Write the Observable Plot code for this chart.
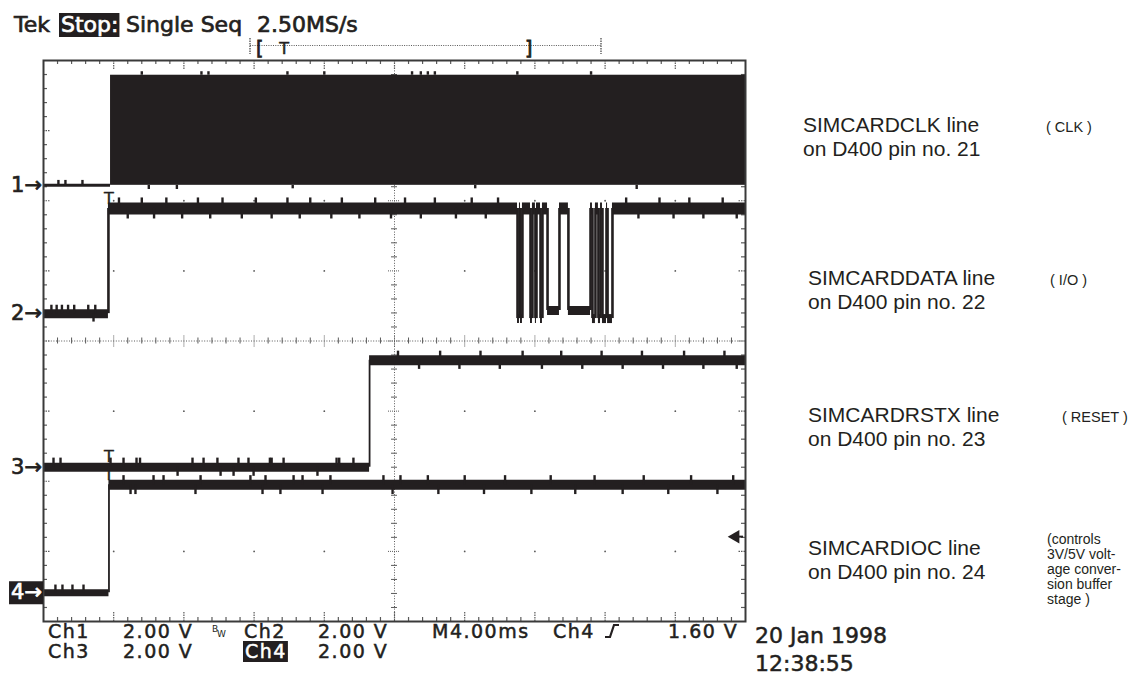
<!DOCTYPE html>
<html>
<head>
<meta charset="utf-8">
<script src="https://cdn.jsdelivr.net/npm/d3@7"></script>
<script src="https://cdn.jsdelivr.net/npm/@observablehq/plot@0.6"></script>
<style>
  html, body { margin: 0; padding: 0; background: #fff; }
  #scope svg { display: block; }
</style>
</head>
<body>
<div id="scope"></div>
<script>
// ---- acquisition settings ----------------------------------------------
const timePerDiv = 4;          // ms per division (M4.00ms)
const voltsPerDiv = 2;         // V per division, all four channels
const divsX = 10;
const divsY = 8;
const sampleRate = "2.50MS/s";
const triggerChannel = 4;
const triggerLevel = 1.60;     // V, rising edge
const triggerTime = 3.73;      // ms from the left edge of the screen
const dateStamp = "20 Jan 1998";
const timeStamp = "12:38:55";

// ---- channels -----------------------------------------------------------
const channelIds = [1, 2, 3, 4];
const groundDiv = [2.22, 0.39, -1.80, -3.59];   // ground markers, divisions from centre
const signalNames = ["SIMCARDCLK", "SIMCARDDATA", "SIMCARDRSTX", "SIMCARDIOC"];
const pinNumbers = [21, 22, 23, 24];
const signalRoles = [
  ["( CLK )"],
  ["( I/O )"],
  ["( RESET )"],
  ["(controls", "3V/5V volt-", "age conver-", "sion buffer", "stage )"]
];

// Ch1: clock burst envelope
const clkStart = 3.82;   // ms
const clkHigh = 3.14;    // V

// Ch2..Ch4 as held levels: [start ms, end ms, volts]
const ch2Levels = [
  [0, 3.70, 0], [3.70, 27.01, 3.0],
  [27.01, 27.12, -0.14], [27.12, 27.18, 3.0], [27.18, 27.29, -0.14],
  [27.29, 27.75, 3.0], [27.75, 27.86, -0.14], [27.86, 28.03, 3.0],
  [28.03, 28.09, -0.14], [28.09, 28.32, 3.0], [28.32, 28.43, -0.14],
  [28.43, 28.72, 3.0], [28.72, 29.40, 0.09], [29.40, 29.91, 3.0],
  [29.91, 31.17, 0.09], [31.17, 31.28, 3.0], [31.28, 31.45, -0.14],
  [31.45, 31.62, 3.0], [31.62, 31.74, -0.14], [31.74, 31.85, 3.0],
  [31.85, 32.08, -0.14], [32.08, 32.14, 3.0], [32.14, 32.42, -0.14],
  [32.42, 40, 3.0]
];
const ch3Levels = [[0, 18.58, 0], [18.58, 40, 3.05]];
const ch4Levels = [[0, 3.73, 0], [3.73, 40, 3.08]];

// Short noise spikes on each trace: [ms, level V, excursion V]
const ch1Glitches = [
  [0.85, 0, 0.14], [1.25, 0, 0.14], [2.22, 0, 0.14],
  [5.6, 3.14, 0.1], [9.0, 3.14, 0.1], [9.4, 3.14, 0.1], [13.9, 3.14, 0.1], [16.0, 3.14, 0.1],
  [21.0, 3.14, 0.1], [21.5, 3.14, 0.1], [21.9, 3.14, 0.1], [22.3, 3.14, 0.1], [27.0, 3.14, 0.1], [31.2, 3.14, 0.1],
  [6.0, 0, -0.12], [7.6, 0, -0.12], [14.2, 0, -0.1], [24.6, 0, -0.1], [33.8, 0, -0.12]
];
const ch2Glitches = [
  [0.45, 0, 0.24], [0.75, 0, 0.24], [1.05, 0, 0.24], [1.4, 0, 0.24], [1.75, 0, 0.24], [2.55, 0, 0.24], [2.95, 0, 0.24], [2.85, 0, -0.24],
  [4.3, 3, 0.3], [5.6, 3, 0.3], [7.0, 3, 0.3], [8.8, 3, 0.3], [10.2, 3, 0.3], [12.1, 3, 0.3], [13.9, 3, 0.3], [15.2, 3, 0.3],
  [17.0, 3, 0.3], [18.9, 3, 0.3], [20.6, 3, 0.3], [22.3, 3, 0.3], [24.4, 3, 0.3], [25.9, 3, 0.3], [33.2, 3, 0.3], [35.1, 3, 0.3],
  [36.8, 3, 0.3], [38.7, 3, 0.3],
  [4.8, 3, -0.3], [6.3, 3, -0.3], [7.9, 3, -0.3], [9.5, 3, -0.3], [11.3, 3, -0.3], [13.0, 3, -0.3], [14.6, 3, -0.3], [16.4, 3, -0.3],
  [18.0, 3, -0.3], [19.8, 3, -0.3], [21.5, 3, -0.3], [23.5, 3, -0.3], [25.2, 3, -0.3], [33.9, 3, -0.3], [35.9, 3, -0.3], [37.6, 3, -0.3],
  [39.5, 3, -0.3]
];
const ch3Glitches = [
  [0.57, 0, 0.26], [0.97, 0, 0.26], [3.82, 0, 0.26], [4.56, 0, 0.26], [5.3, 0, 0.26], [5.5, 0, 0.26], [8.49, 0, 0.26], [9.12, 0, 0.26],
  [9.91, 0, 0.26], [11.11, 0, 0.26], [11.68, 0, 0.26], [12.9, 0, 0.26], [13.0, 0, 0.26], [13.68, 0, 0.26], [16.7, 0, 0.26], [16.85, 0, 0.26],
  [17.66, 0, 0.26],
  [7.64, 0, -0.26], [10.09, 0, -0.26], [10.83, 0, -0.26], [11.97, 0, -0.26], [15.61, 0, -0.26],
  [20.2, 3.05, 0.26], [22.6, 3.05, 0.26], [24.9, 3.05, 0.26], [27.3, 3.05, 0.26], [29.5, 3.05, 0.26], [31.8, 3.05, 0.26],
  [34.1, 3.05, 0.26], [36.5, 3.05, 0.26], [38.8, 3.05, 0.26],
  [21.4, 3.05, -0.26], [23.7, 3.05, -0.26], [26.0, 3.05, -0.26], [28.4, 3.05, -0.26], [30.7, 3.05, -0.26], [33.0, 3.05, -0.26],
  [35.3, 3.05, -0.26], [37.6, 3.05, -0.26], [39.5, 3.05, -0.26]
];
const ch4Glitches = [
  [0.68, 0, 0.22], [1.08, 0, 0.22], [1.65, 0, 0.22], [2.28, 0, 0.22],
  [4.96, 3.08, -0.28], [5.24, 3.08, -0.28], [8.66, 3.08, -0.28], [12.48, 3.08, -0.28], [13.5, 3.08, -0.28], [15.9, 3.08, -0.28],
  [19.89, 3.08, -0.28], [22.5, 3.08, -0.28], [25.1, 3.08, -0.28], [27.8, 3.08, -0.28], [30.3, 3.08, -0.28], [33.0, 3.08, -0.28],
  [35.6, 3.08, -0.28], [38.4, 3.08, -0.28],
  [4.56, 3.08, 0.26], [6.27, 3.08, 0.26], [6.84, 3.08, 0.26], [8.95, 3.08, 0.26], [11.79, 3.08, 0.26], [12.65, 3.08, 0.26],
  [14.25, 3.08, 0.26], [14.76, 3.08, 0.26], [16.35, 3.08, 0.26], [19.37, 3.08, 0.26], [20.34, 3.08, 0.26], [21.9, 3.08, 0.26],
  [24.0, 3.08, 0.26], [26.3, 3.08, 0.26], [28.9, 3.08, 0.26], [31.4, 3.08, 0.26], [34.2, 3.08, 0.26], [36.9, 3.08, 0.26],
  [39.3, 3.08, 0.26]
];

// ---- drawing styles -----------------------------------------------------
const ink = "#231f20";
const gridInk = "#5a5a5a";
const tekFont = "'DejaVu Sans', sans-serif";
const noteFont = "'Liberation Sans', Arial, sans-serif";
const bandPx = { 1: [3, 3], 2: [9, 12], 3: [9, 10], 4: [7, 10] };   // [low, high] trace thickness
const edgePx = { 2: 2.6, 3: 1.8, 4: 1.8 };                          // transition line width

const W = 1145, H = 678;
const M = { top: 60, right: 400, bottom: 57, left: 43 };
const spanT = timePerDiv * divsX;
const kx = (W - M.left - M.right) / spanT;        // px per ms
const ky = (H - M.top - M.bottom) / divsY;        // px per division

const level = (ch, v) => groundDiv[ch - 1] + v / voltsPerDiv;

// ---- tables built from the arrays above ---------------------------------
const segRows = [];
const edgeRows = [];
[[2, ch2Levels], [3, ch3Levels], [4, ch4Levels]].forEach(([ch, segs]) => {
  segs.forEach(([t0, t1, v], i) => {
    segRows.push({ ch, t0, t1, v, w: bandPx[ch][v > 1.5 ? 1 : 0] });
    if (i > 0) edgeRows.push({ ch, t: t0, v0: segs[i - 1][2], v1: v, w: edgePx[ch] });
  });
});
const glitchRows = [];
[[1, ch1Glitches], [2, ch2Glitches], [3, ch3Glitches], [4, ch4Glitches]].forEach(([ch, list]) =>
  list.forEach(([t, v, dv]) => glitchRows.push({ ch, t, v, dv })));

// graticule positions
const minorT = d3.range(1, divsX * 5).map(i => i * timePerDiv / 5).filter(t => Math.abs(t / timePerDiv - Math.round(t / timePerDiv)) > 1e-6);
const majorT = d3.range(1, divsX).map(i => i * timePerDiv);
const minorY = d3.range(1, divsY * 5).map(i => -divsY / 2 + i / 5).filter(y => Math.abs(y - Math.round(y)) > 1e-6);
const majorY = d3.range(1, divsY).map(i => -divsY / 2 + i);
const centreT = spanT / 2;
const dots = d3.cross(majorT.filter(t => t !== centreT), majorY.filter(y => y !== 0)).map(([t, y]) => ({ t, y }));
const yTop = divsY / 2, yBottom = -divsY / 2;

const plot = Plot.plot({
  width: W, height: H,
  marginTop: M.top, marginRight: M.right, marginBottom: M.bottom, marginLeft: M.left,
  x: { domain: [0, spanT], axis: null },
  y: { domain: [yBottom, yTop], axis: null },
  style: { background: "#fff", overflow: "visible" },
  marks: [
    // graticule: division dots, centre cross and edge ticks
    Plot.dot(dots, { x: "t", y: "y", r: 0.9, fill: gridInk, stroke: null }),
    Plot.ruleY([0], { stroke: gridInk, strokeDasharray: "1,1.6", strokeWidth: 1 }),
    Plot.ruleX([centreT], { stroke: gridInk, strokeDasharray: "1,1.6", strokeWidth: 1 }),
    Plot.ruleX(minorT, { x: d => d, y1: -3 / ky, y2: 3 / ky, stroke: gridInk, strokeWidth: 1 }),
    Plot.ruleX(majorT, { x: d => d, y1: -6 / ky, y2: 6 / ky, stroke: gridInk, strokeWidth: 1, strokeDasharray: "1,1" }),
    Plot.ruleY(minorY, { y: d => d, x1: centreT - 3 / kx, x2: centreT + 3 / kx, stroke: gridInk, strokeWidth: 1 }),
    Plot.ruleY(majorY, { y: d => d, x1: centreT - 6 / kx, x2: centreT + 6 / kx, stroke: gridInk, strokeWidth: 1, strokeDasharray: "1,1" }),
    Plot.ruleX(minorT, { x: d => d, y1: yTop, y2: yTop - 4 / ky, stroke: gridInk, strokeWidth: 1.2 }),
    Plot.ruleX(majorT, { x: d => d, y1: yTop, y2: yTop - 9 / ky, stroke: gridInk, strokeWidth: 1.2, strokeDasharray: "1.5,1" }),
    Plot.ruleX(minorT, { x: d => d, y1: yBottom, y2: yBottom + 4 / ky, stroke: gridInk, strokeWidth: 1.2 }),
    Plot.ruleX(majorT, { x: d => d, y1: yBottom, y2: yBottom + 9 / ky, stroke: gridInk, strokeWidth: 1.2, strokeDasharray: "1.5,1" }),
    Plot.ruleY(minorY, { y: d => d, x1: 0, x2: 4 / kx, stroke: gridInk, strokeWidth: 1.2 }),
    Plot.ruleY(majorY, { y: d => d, x1: 0, x2: 7 / kx, stroke: gridInk, strokeWidth: 1.2, strokeDasharray: "1.5,1" }),
    Plot.ruleY(minorY, { y: d => d, x1: spanT, x2: spanT - 4 / kx, stroke: gridInk, strokeWidth: 1.2 }),
    Plot.ruleY(majorY, { y: d => d, x1: spanT, x2: spanT - 7 / kx, stroke: gridInk, strokeWidth: 1.2, strokeDasharray: "1.5,1" }),

    // Ch1 clock: flat until the burst starts, then a solid envelope
    Plot.ruleY([0], { y: level(1, 0), x1: 0, x2: clkStart, stroke: ink, strokeWidth: bandPx[1][0] }),
    Plot.rect([{ t0: clkStart, t1: spanT, v0: 0, v1: clkHigh }], {
      x1: "t0", x2: "t1", y1: d => level(1, d.v0), y2: d => level(1, d.v1), fill: ink
    }),

    // Ch2..Ch4 levels and their transitions
    Plot.ruleY(segRows, { y: d => level(d.ch, d.v), x1: "t0", x2: "t1", stroke: ink, strokeWidth: "w" }),
    Plot.ruleX(edgeRows, { x: "t", y1: d => level(d.ch, d.v0), y2: d => level(d.ch, d.v1), stroke: ink, strokeWidth: "w" }),
    Plot.ruleX(glitchRows, { x: "t", y1: d => level(d.ch, d.v), y2: d => level(d.ch, d.v + d.dv), stroke: ink, strokeWidth: 2.4 }),

    // trigger-time marks on Ch2, Ch3 and Ch4
    Plot.text([{ ch: 2, v: 3.0 }, { ch: 3, v: 0 }, { ch: 4, v: 3.08 }], {
      x: triggerTime, y: d => level(d.ch, d.v), text: () => "T", dy: -10,
      fontSize: 16, fill: ink, stroke: ink, strokeWidth: 0.4, fontFamily: tekFont
    }),

    // trigger level indicator on the right edge
    Plot.ruleY([triggerLevel], { y: d => level(triggerChannel, d), x1: spanT - 9 / kx, x2: spanT - 2 / kx, stroke: ink, strokeWidth: 2 }),
    Plot.dot([triggerLevel], { x: spanT - 10 / kx, y: d => level(triggerChannel, d), symbol: "triangle", rotate: -90, r: 5, fill: ink, stroke: null }),

    Plot.frame({ stroke: "#3a3a3a", strokeWidth: 2 })
  ]
});

document.getElementById("scope").appendChild(plot);

// ---- readout text around the graticule ----------------------------------
const svg = d3.select(plot);
const sy = plot.scale("y");

function label(x, y, str, o = {}) {
  const g = svg.append("g");
  const t = g.append("text")
    .attr("x", x).attr("y", y)
    .style("font-family", o.family || tekFont)
    .style("font-size", (o.size || 19) + "px")
    .style("letter-spacing", (o.spacing || 0) + "px")
    .attr("text-anchor", o.anchor || "start")
    .attr("fill", o.inverse ? "#fff" : (o.fill || ink))
    .text(str);
  if (o.heavy) t.attr("stroke", o.inverse ? "#fff" : ink).attr("stroke-width", o.heavy);
  if (o.inverse) {
    const b = t.node().getBBox();
    g.insert("rect", "text")
      .attr("x", b.x - 2).attr("y", b.y + 1)
      .attr("width", b.width + 3).attr("height", b.height - 1)
      .attr("fill", ink);
  }
  return t;
}

// header
const hd = { size: 22, heavy: 0.7 };
label(14, 32, "Tek", hd);
label(61, 32, "Stop:", { ...hd, inverse: true });
label(126, 32, "Single Seq", hd);
label(257, 32, sampleRate, hd);

// record-position bar
const barL = 250, barR = 601, scrL = 259, scrR = 528, barY = 45.5;
svg.append("line").attr("x1", barL).attr("x2", barR).attr("y1", barY).attr("y2", barY)
  .attr("stroke", gridInk).attr("stroke-width", 1.2).attr("stroke-dasharray", "1,1.3");
[barL, barR].forEach(x => svg.append("line").attr("x1", x).attr("x2", x).attr("y1", 38).attr("y2", 54)
  .attr("stroke", gridInk).attr("stroke-width", 1.4).attr("stroke-dasharray", "1.5,1"));
label(scrL - 3, 55, "[", { size: 19, heavy: 0.8 });
label(scrR - 3, 55, "]", { size: 19, heavy: 0.8 });
label(scrL + (scrR - scrL) * triggerTime / spanT, 54, "T", { size: 16, anchor: "middle", heavy: 0.5 });

// channel ground markers
channelIds.forEach((id, i) => {
  const y = sy.apply(groundDiv[i]) + 7;
  label(42, y, `${id}→`, { size: 21, anchor: "end", heavy: 0.7, inverse: id === triggerChannel });
});

// bottom readout
const vdiv = voltsPerDiv.toFixed(2) + " V";
const row1 = 638, row2 = 658;
const rd = { size: 19, spacing: 1.5, heavy: 0.5 };
label(48, row1, "Ch1", rd);
label(123, row1, vdiv, rd);
label(212, row1 - 6, "B", { size: 9 });
label(217, row1 - 1, "W", { size: 9 });
label(244, row1, "Ch2", rd);
label(318, row1, vdiv, rd);
label(432, row1, `M${timePerDiv.toFixed(2)}ms`, rd);
label(553, row1, `Ch${triggerChannel}`, rd);
svg.append("path")
  .attr("d", `M605,${row1 - 1} H610 L614,${row1 - 13} H619`)
  .attr("fill", "none").attr("stroke", ink).attr("stroke-width", 2.2);
label(668, row1, triggerLevel.toFixed(2) + " V", rd);
label(48, row2, "Ch3", rd);
label(123, row2, vdiv, rd);
label(245, row2, `Ch${triggerChannel}`, { ...rd, inverse: true });
label(318, row2, vdiv, rd);

label(755, 643, dateStamp, { size: 22, heavy: 0.5 });
label(755, 671, timeStamp, { size: 22, heavy: 0.5 });

// signal notes on the right
const noteTop = [132, 285, 422, 555];
const noteX = [803, 808, 808, 808];
const roleX = [1046, 1050, 1062, 1047];
const roleY = [132, 285, 422, 544];
signalNames.forEach((name, i) => {
  label(noteX[i], noteTop[i], `${name} line`, { family: noteFont, size: 21 });
  label(noteX[i], noteTop[i] + 24, `on D400 pin no. ${pinNumbers[i]}`, { family: noteFont, size: 21 });
  signalRoles[i].forEach((line, j) =>
    label(roleX[i], roleY[i] + j * 15, line, { family: noteFont, size: signalRoles[i].length > 1 ? 14 : 14.5 }));
});
</script>
</body>
</html>
